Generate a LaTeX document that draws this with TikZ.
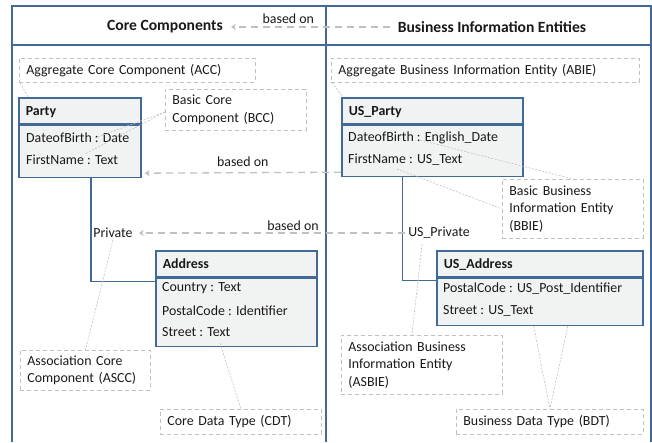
\documentclass[tikz,border=0pt]{standalone}
\usepackage{fontspec}
\setmainfont{Carlito}
\usetikzlibrary{arrows.meta}
\definecolor{frameblue}{RGB}{66,106,152}
\definecolor{boxfill}{RGB}{241,243,242}
\definecolor{notegray}{RGB}{192,192,192}
\definecolor{txt}{RGB}{25,25,25}

\begin{document}
\begin{tikzpicture}[x=1pt,y=-1pt,
  every node/.style={font=\fontsize{13.9}{17.3}\selectfont, text=txt, inner sep=0pt},
  frameline/.style={draw=frameblue, line width=1.6pt},
  title/.style={font=\fontsize{15.6}{18}\selectfont\bfseries, inner xsep=8pt},
  classhead/.style={draw=frameblue, fill=boxfill, line width=1.6pt, anchor=north west,
    minimum height=26pt, inner xsep=7pt, align=left, text height=10.5pt, text depth=0.3pt,
    font=\fontsize{13.9}{17}\selectfont\bfseries},
  classbody/.style={draw=frameblue, fill=boxfill, line width=1.6pt, anchor=north west},
  attr/.style={anchor=west, yshift=-1.5pt},
  note/.style={draw=notegray, line width=0.8pt, dash pattern=on 4pt off 3pt, anchor=north west,
    inner xsep=7pt, align=left},
  assoc/.style={draw=frameblue, line width=1.6pt},
  basedon/.style={draw=notegray, line width=1.3pt, dash pattern=on 7pt off 5pt,
    -{Stealth[length=5pt,width=6pt]}},
  hint/.style={draw=notegray, line width=0.6pt, dash pattern=on 2pt off 1.5pt}]

\useasboundingbox (0,0) rectangle (652,442);

% swimlane frame
\draw[frameline] (12,442) -- (12,6) -- (651,6) -- (651,442);
\draw[frameline] (12,45) -- (651,45);
\draw[frameline] (326,6) -- (326,442);

% lane titles
\node[title] (cc) at (165,27) {Core Components};
\node[title] (bie) at (492,27) {Business Information Entities};
\draw[basedon] (bie.west) -- node[above=3pt, xshift=-22pt] {based on} (cc.east);

% Party
\node[classhead, text width=108pt] (party) at (18,97) {Party};
\node[classbody, minimum width=122pt, minimum height=52pt] (partybody) at (party.south west) {};
\node[attr] (pdob) at (26,136) {DateofBirth : Date};
\node[attr] (pfn) at (26,158) {FirstName : Text};

% Address
\node[classhead, text width=147pt] (addr) at (155,250) {Address};
\node[classbody, minimum width=161pt, minimum height=68pt] (addrbody) at (addr.south west) {};
\node[attr] (acountry) at (162,287) {Country : Text};
\node[attr] (apost) at (162,309) {PostalCode : Identifier};
\node[attr] (astreet) at (162,331) {Street : Text};

% US_Party
\node[classhead, text width=167pt] (usp) at (341,97) {US\_Party};
\node[classbody, minimum width=181pt, minimum height=51pt] (uspbody) at (usp.south west) {};
\node[attr] (uspdob) at (348,136) {DateofBirth : English\_Date};
\node[attr] (uspfn) at (348,158) {FirstName : US\_Text};

% US_Address
\node[classhead, text width=192pt] (usaddr) at (436,250) {US\_Address};
\node[classbody, minimum width=206pt, minimum height=47pt] (usaddrbody) at (usaddr.south west) {};
\node[attr] (usapost) at (443,287) {PostalCode : US\_Post\_Identifier};
\node[attr] (usastreet) at (443,309) {Street : US\_Text};

% associations
\draw[assoc] ([xshift=11pt]partybody.south) |- ([yshift=-4pt]addr.south west);
\node (priv) at (113,233) {Private};
\draw[assoc] ([xshift=-30pt]uspbody.south) |- ([yshift=-3pt]usaddr.south west);
\node[fill=white, inner xsep=1pt] (uspriv) at (439,233) {US\_Private};

% derivation arrows
\draw[basedon] ([yshift=5pt]uspbody.south west) --
  node[above=5pt] {based on} ([yshift=5pt, xshift=3pt]partybody.south east);
\draw[basedon] ([xshift=-2pt]uspriv.west) --
  node[above=2pt, xshift=21pt] {based on} ([xshift=6pt]priv.east);

% explanatory notes
\node[note, text width=222pt, minimum height=24pt] (acc) at (19,58) {Aggregate Core Component (ACC)};
\node[note, text width=127pt, minimum height=41pt] (bcc) at (165,89) {Basic Core\\Component (BCC)};
\node[note, text width=294pt, minimum height=24pt] (abie) at (331,58) {Aggregate Business Information Entity (ABIE)};
\node[note, text width=127pt, minimum height=59pt] (bbie) at (502,179) {Basic Business\\Information Entity\\(BBIE)};
\node[note, text width=116pt, minimum height=40pt] (ascc) at (20,350) {Association Core\\Component (ASCC)};
\node[note, text width=147pt, minimum height=25pt] (cdt) at (160,409) {Core Data Type (CDT)};
\node[note, text width=147pt, minimum height=59pt] (asbie) at (341,335) {Association Business\\Information Entity\\(ASBIE)};
\node[note, text width=173pt, minimum height=25pt] (bdt) at (456,409) {Business Data Type (BDT)};

% anchor points inside attribute rows
\coordinate (pdobc) at (95,138);
\coordinate (pfnc) at (85,154);
\coordinate (uspdobc) at (420,140);
\coordinate (uspfnc) at (397,169);
\coordinate (asstreetc) at (220,343);
\coordinate (usprivc) at (422,244);

% note pointers
\draw[hint] ([xshift=1pt]acc.south west) -- ([xshift=10pt]party.north west);
\draw[hint] ([yshift=-2pt]bcc.west) -- (pdobc);
\draw[hint] ([yshift=-2pt]bcc.west) -- (pfnc);
\draw[hint] ([xshift=1pt]abie.south west) -- ([xshift=2pt]usp.north west);
\draw[hint] (uspdobc) -- (bbie.north);
\draw[hint] (uspfnc) -- (bbie.west);
\draw[hint] ([yshift=-2pt]priv.south) -- (ascc.north);
\draw[hint] (asstreetc) -- (cdt.north);
\draw[hint] (usprivc) -- ([xshift=-10pt]asbie.north);
\draw[hint] ([xshift=-6pt]usaddrbody.south) -- (bdt.north);
\draw[hint] ([xshift=28pt]usaddrbody.south) -- (bdt.north);
\end{tikzpicture}
\end{document}
